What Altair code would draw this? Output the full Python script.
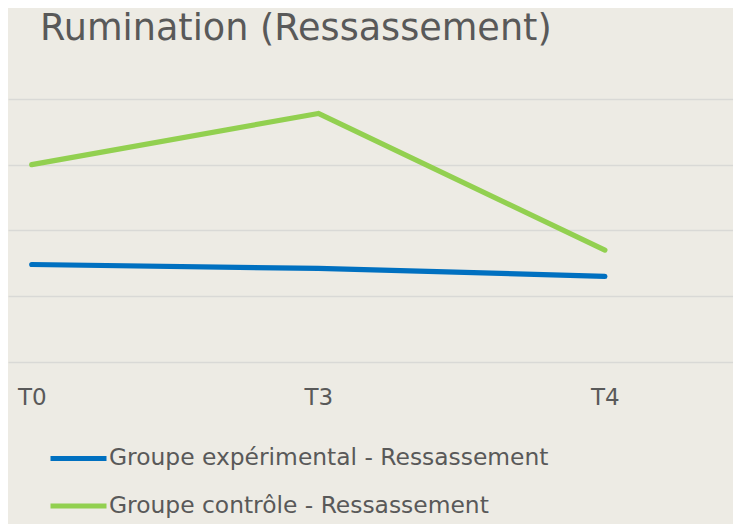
import altair as alt
import pandas as pd

times = ["T0", "T3", "T4"]
exp_values = [1.48, 1.42, 1.30]
ctrl_values = [3.00, 3.78, 1.70]
series = ["Groupe expérimental - Ressassement", "Groupe contrôle - Ressassement"]
colors = ["#0070C0", "#92D050"]
grid_values = [0, 1, 2, 3, 4]

rows = []
for i, (t, v) in enumerate(zip(times, exp_values)):
    rows.append({"pos": i, "temps": t, "valeur": v, "groupe": series[0]})
for i, (t, v) in enumerate(zip(times, ctrl_values)):
    rows.append({"pos": i, "temps": t, "valeur": v, "groupe": series[1]})
df = pd.DataFrame(rows)

TXT = "#595959"
BG = "#EDEBE4"
label_expr = "[" + ",".join("'%s'" % t for t in times) + "][datum.value]"

chart = alt.Chart(df).mark_line(
    strokeWidth=5.2, strokeCap="round", strokeJoin="round"
).encode(
    x=alt.X(
        "pos:Q",
        scale=alt.Scale(domain=[-0.0827, 2.447], nice=False, zero=False),
        axis=alt.Axis(
            title=None, labelAngle=0, domain=False, ticks=False, grid=False,
            values=list(range(len(times))), labelExpr=label_expr,
            labelPadding=43, labelBaseline="alphabetic", labelFlush=False,
            labelFont="DejaVu Sans", labelFontSize=23, labelColor=TXT,
        ),
    ),
    y=alt.Y(
        "valeur:Q",
        scale=alt.Scale(domain=[0, 4], nice=False, zero=True),
        axis=alt.Axis(
            title=None, labels=False, ticks=False, domain=False,
            values=grid_values, grid=True, gridColor="#D9D9D6", gridWidth=1.6,
        ),
    ),
    color=alt.Color(
        "groupe:N",
        sort=series,
        scale=alt.Scale(domain=series, range=colors),
        legend=alt.Legend(
            title=None, orient="none", legendX=40, legendY=329,
            direction="vertical", symbolType="stroke", symbolSize=3136,
            symbolStrokeWidth=5, labelFont="DejaVu Sans", labelFontSize=23.4,
            labelColor=TXT, labelOffset=0, padding=0, labelLimit=0,
            rowPadding=5.5,
        ),
    ),
    detail="groupe:N",
).properties(
    width=725,
    height=262.7,
    title=alt.TitleParams(
        "Rumination (Ressassement)", anchor="start", frame="group",
        font="DejaVu Sans", fontSize=36.6, fontWeight="normal", color=TXT,
        offset=22, baseline="alphabetic", dx=32,
    ),
    background=BG,
    autosize=alt.AutoSizeParams(type="none"),
    padding={"left": 0, "top": 91, "right": 0, "bottom": 162},
).configure_view(stroke=None)

chart.save("out.html", embed_options={"renderer": "svg", "actions": False})
